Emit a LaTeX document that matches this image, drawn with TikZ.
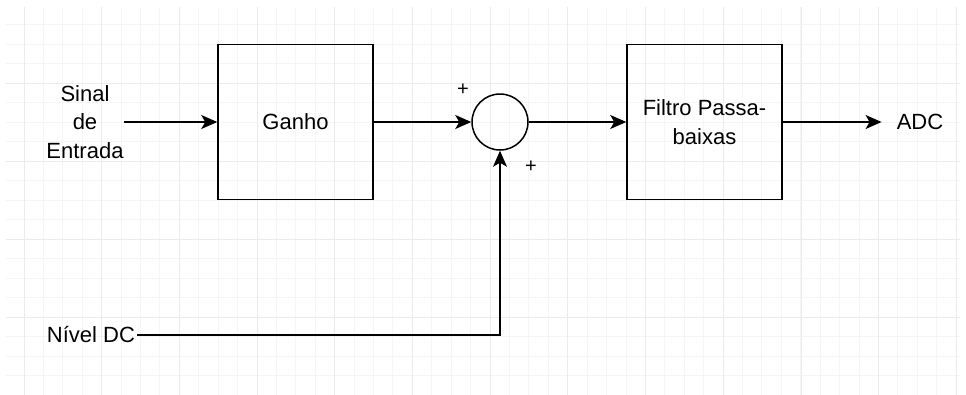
\documentclass[tikz,border=0pt]{standalone}
\usepackage{fontspec}
\setmainfont{Liberation Sans}
\usetikzlibrary{arrows.meta}

\begin{document}
\begin{tikzpicture}[x=1pt,y=-1pt,>={Stealth[length=16pt,width=14pt,inset=4pt]}]
  \tikzstyle{block}=[draw,line width=1.5pt,minimum width=155pt,minimum height=155pt,align=center]
  \tikzstyle{sum}=[draw,circle,line width=1.5pt,minimum size=56pt,inner sep=0pt]
  \tikzstyle{txt}=[align=center,font=\fontsize{22}{28.5}\selectfont]
  \tikzstyle{sign}=[font=\fontsize{20}{20}\selectfont,inner sep=0pt]
  \tikzstyle{wire}=[line width=1.5pt]
  \useasboundingbox (0,0) rectangle (966,394);

  % grid
  \begin{scope}
    \clip (6,7) rectangle (960,394);
    \foreach \i in {-1,...,50} {
      \draw[line width=1pt,black!4] (24+19.42*\i,0) -- (24+19.42*\i,400);
      \draw[line width=1pt,black!4] (0,5.3+19.5*\i) -- (970,5.3+19.5*\i);
    }
    \foreach \i in {0,...,12} {
      \draw[line width=1pt,black!8] (24+77.7*\i,0) -- (24+77.7*\i,400);
    }
    \foreach \i in {0,...,5} {
      \draw[line width=1pt,black!8] (0,5.3+78*\i) -- (970,5.3+78*\i);
    }
  \end{scope}

  \node[block,txt] (ganho) at (295.5,122) {Ganho};
  \node[sum] (soma) at (500,122) {};
  \node[block,txt] (filtro) at (704.5,122) {Filtro Passa-\\baixas};

  \node[txt,inner sep=0pt] (entrada) at (85,122) {Sinal\\de\\Entrada};
  \node[txt,inner xsep=15pt] (adc) at (920,122) {ADC};
  \node[txt,inner sep=2pt] (nivel) at (91,335) {Nível DC};

  \node[sign] at (463,90) {+};
  \node[sign] at (531,167) {+};

  \draw[wire,->] (entrada.east) -- (ganho.west);
  \draw[wire,->] (ganho.east) -- (soma.west);
  \draw[wire,->] (soma.east) -- (filtro.west);
  \draw[wire,->] (filtro.east) -- (adc.west);
  \draw[wire,->] (nivel.east) -| (soma.south);
\end{tikzpicture}
\end{document}
